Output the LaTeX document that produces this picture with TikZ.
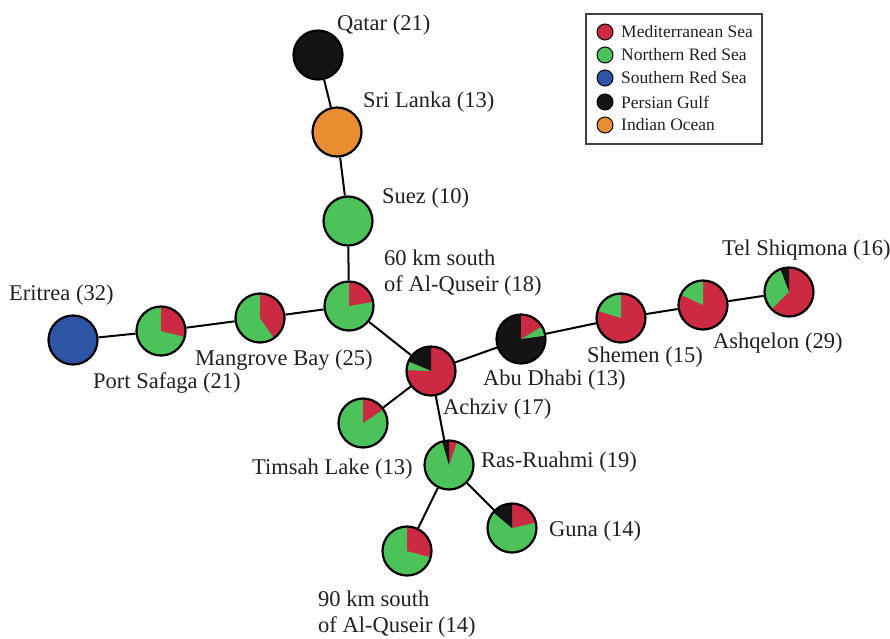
\documentclass[tikz,border=0pt]{standalone}
\usepackage{fontspec}
\setmainfont{Liberation Serif}
\definecolor{medred}{HTML}{CC2942}
\definecolor{nrsgreen}{HTML}{4CC25A}
\definecolor{srsblue}{HTML}{2E54A6}
\definecolor{pgblack}{HTML}{141414}
\definecolor{ioorange}{HTML}{E88E30}
\definecolor{labelgray}{HTML}{231F20}
% one coloured sector of a pie node, clipped to the node's circle
\newcommand\slice[3]{\fill[#1] (path picture bounding box.center) -- ++(#2:32) arc[start angle=#2, end angle=#3, radius=32] -- cycle;}
\begin{document}
\begin{tikzpicture}[x=1pt,y=1pt,
  pie/.style={circle, draw=black, line width=2.2pt, minimum size=49pt, inner sep=0pt, fill=nrsgreen},
  lbl/.style={anchor=base west, inner sep=0pt, font=\fontsize{22.5}{26}\selectfont, text=labelgray, align=left},
  link/.style={line width=2pt, black},
  keydot/.style={circle, draw=black, line width=1pt, minimum size=16pt, inner sep=0pt},
  keytext/.style={anchor=west, inner sep=0pt, font=\fontsize{17.5}{20}\selectfont, text=labelgray}]
\useasboundingbox (0,0) rectangle (890,-638);

% haplotype pies
\node[pie, fill=pgblack] (qatar) at (318,-55) {};
\node[pie, fill=ioorange] (srilanka) at (337,-132) {};
\node[pie] (suez) at (348,-221) {};
\node[pie, path picture={\slice{medred}{10}{90}}] (km60) at (349,-306) {};
\node[pie, path picture={\slice{medred}{-55}{90}}] (mangrove) at (260,-318) {};
\node[pie, path picture={\slice{medred}{-14}{90}}] (safaga) at (161,-331) {};
\node[pie, fill=srsblue] (eritrea) at (73,-340) {};
\node[pie, fill=medred, path picture={\slice{pgblack}{90}{157}\slice{nrsgreen}{157}{178}}] (achziv) at (431,-371) {};
\node[pie, fill=pgblack, path picture={\slice{medred}{31}{90}\slice{nrsgreen}{8}{31}}] (abudhabi) at (521,-339) {};
\node[pie, fill=medred, path picture={\slice{nrsgreen}{90}{163}}] (shemen) at (621,-318) {};
\node[pie, fill=medred, path picture={\slice{nrsgreen}{90}{155}}] (ashqelon) at (703,-305) {};
\node[pie, fill=medred, path picture={\slice{pgblack}{90}{111}\slice{nrsgreen}{111}{224}}] (telshiq) at (789,-292) {};
\node[pie, path picture={\slice{medred}{34}{90}}] (timsah) at (363,-423) {};
\node[pie, path picture={\slice{medred}{71}{90}\slice{pgblack}{90}{106}}] (rasruahmi) at (449,-465) {};
\node[pie, path picture={\slice{medred}{13}{90}\slice{pgblack}{90}{140}}] (guna) at (512,-528) {};
\node[pie, path picture={\slice{medred}{-15}{90}}] (km90) at (407,-551) {};

% network links
\draw[link] (qatar) -- (srilanka);
\draw[link] (srilanka) -- (suez);
\draw[link] (suez) -- (km60);
\draw[link] (km60) -- (mangrove);
\draw[link] (mangrove) -- (safaga);
\draw[link] (safaga) -- (eritrea);
\draw[link] (km60) -- (achziv);
\draw[link] (achziv) -- (abudhabi);
\draw[link] (abudhabi) -- (shemen);
\draw[link] (shemen) -- (ashqelon);
\draw[link] (ashqelon) -- (telshiq);
\draw[link] (achziv) -- (timsah);
\draw[link] (achziv) -- (rasruahmi);
\draw[link] (rasruahmi) -- (guna);
\draw[link] (rasruahmi) -- (km90);

% site labels (two-line labels sit on the baseline of their last line)
\node[lbl] (lqatar) at (337,-30) {Qatar (21)};
\node[lbl] (lsrilanka) at (363,-107) {Sri Lanka (13)};
\node[lbl] (lsuez) at (382,-203) {Suez (10)};
\node[lbl] (lkm60) at (384,-291) {60 km south\\of Al-Quseir (18)};
\node[lbl] (leritrea) at (9,-300) {Eritrea (32)};
\node[lbl] (lsafaga) at (93,-388) {Port Safaga (21)};
\node[lbl] (lmangrove) at (195,-365) {Mangrove Bay (25)};
\node[lbl] (lachziv) at (443,-414) {Achziv (17)};
\node[lbl] (labudhabi) at (483,-385) {Abu Dhabi (13)};
\node[lbl] (lshemen) at (587,-362) {Shemen (15)};
\node[lbl] (lashqelon) at (713,-348) {Ashqelon (29)};
\node[lbl] (ltelshiq) at (722,-255) {Tel Shiqmona (16)};
\node[lbl] (ltimsah) at (252,-474) {Timsah Lake (13)};
\node[lbl] (lrasruahmi) at (481,-467) {Ras-Ruahmi (19)};
\node[lbl] (lguna) at (549,-536) {Guna (14)};
\node[lbl] (lkm90) at (318,-632) {90 km south\\of Al-Quseir (14)};

% legend
\draw[line width=1.2pt, draw=black!75] (586,-14) rectangle (762,-144);
\node[keydot, fill=medred] (kmed) at (605,-32) {};
\node[keydot, fill=nrsgreen] (knrs) at (605,-55) {};
\node[keydot, fill=srsblue] (ksrs) at (605,-78) {};
\node[keydot, fill=pgblack] (kpg) at (605,-102) {};
\node[keydot, fill=ioorange] (kio) at (605,-125) {};
\node[keytext] (tmed) at (621,-32) {Mediterranean Sea};
\node[keytext] (tnrs) at (621,-55) {Northern Red Sea};
\node[keytext] (tsrs) at (621,-78) {Southern Red Sea};
\node[keytext] (tpg) at (621,-102) {Persian Gulf};
\node[keytext] (tio) at (621,-125) {Indian Ocean};
\end{tikzpicture}
\end{document}
